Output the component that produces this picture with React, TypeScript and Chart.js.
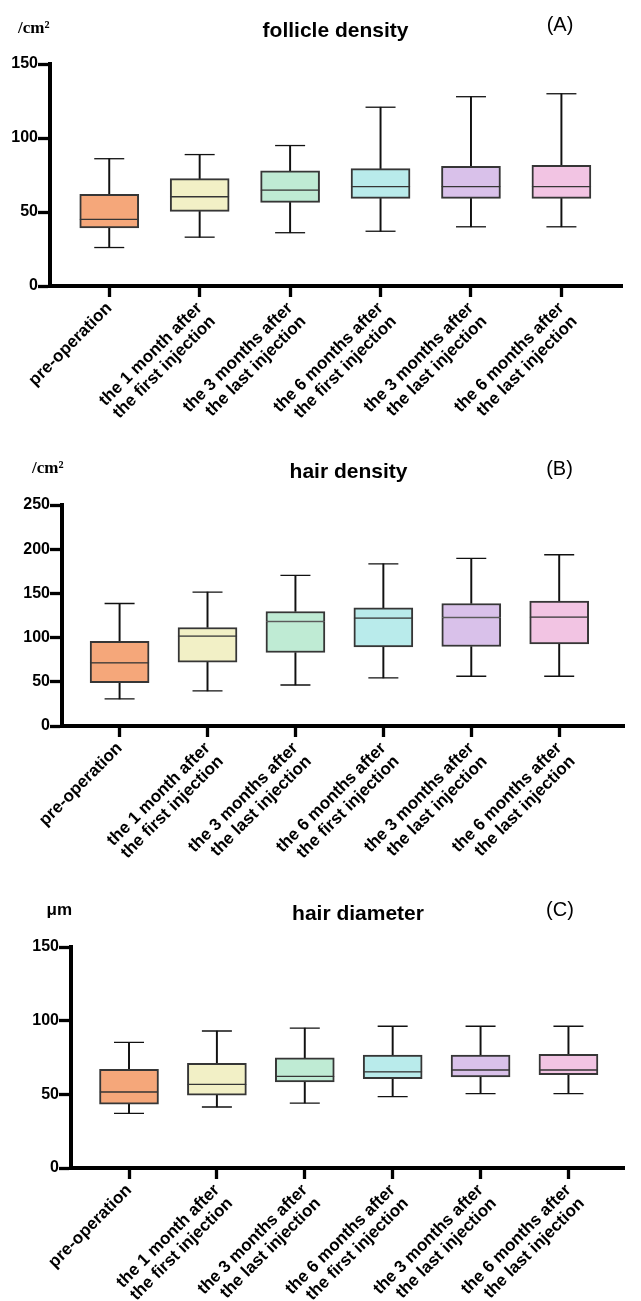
import React, { useEffect, useRef } from 'react';
import { Chart, registerables } from 'chart.js';
Chart.register(...registerables);

const categories: (string | string[])[] = [
  'pre-operation',
  ['the 1 month after', 'the first injection'],
  ['the 3 months after', 'the last injection'],
  ['the 6 months after', 'the first injection'],
  ['the 3 months after', 'the last injection'],
  ['the 6 months after', 'the last injection'],
];
const boxColors = ['#F5A77A', '#F2F0C6', '#BFEBD4', '#B9EBEB', '#D9C1EA', '#F2C4E3'];

// (A) follicle density
const follicleMin = [26, 33, 36, 37, 40, 40];
const follicleQ1 = [39.3, 50.4, 56.5, 59.2, 59.2, 59.2];
const follicleMedian = [45, 60.3, 64.8, 67.1, 67.1, 67.1];
const follicleQ3 = [61.9, 72.5, 77.9, 79.3, 80.9, 81.5];
const follicleMax = [86, 88.8, 94.9, 120.8, 127.9, 129.9];

// (B) hair density
const hairDensityMin = [30.6, 39.7, 46.4, 54.4, 56.3, 56.3];
const hairDensityQ1 = [49.1, 72.1, 83.1, 89.5, 89.9, 92.9];
const hairDensityMedian = [71.4, 101.6, 118.2, 122, 122.7, 123.1];
const hairDensityQ3 = [95.9, 111.4, 129.5, 133.7, 138.6, 141.2];
const hairDensityMax = [138.6, 151.4, 170.3, 183.5, 189.6, 193.7];

// (C) hair diameter
const diameterMin = [37.1, 41.4, 44.1, 48.4, 50.5, 50.5];
const diameterQ1 = [43.4, 49.5, 58.4, 60.6, 61.8, 63.3];
const diameterMedian = [51.6, 56.8, 62.2, 65.2, 66.5, 66.5];
const diameterQ3 = [67, 71, 74.7, 76.7, 76.7, 77.1];
const diameterMax = [85.3, 93, 95, 96.2, 96.2, 96.2];

const yMaxA = 150;
const yMaxB = 250;
const yMaxC = 150;
const yStep = 50;

const SANS = '"Liberation Sans", Arial, sans-serif';

type Spec = {
  min: number[]; q1: number[]; med: number[]; q3: number[]; max: number[];
  yMax: number;
  height: number;
  padTop: number;
  padRight: number;
  yAxisWidth: number;
  xAxisHeight: number;
  xMin: number;
  xMax: number;
};

function makeConfig(s: Spec): any {
  const idx = categories.map((_, i) => i);
  const range = (a: number[], b: number[]) => idx.map(i => ({ x: i, y: [a[i], b[i]] }));
  const pts = (a: number[]) => idx.map(i => ({ x: i, y: a[i] }));
  const boxBase = {
    type: 'bar',
    backgroundColor: boxColors,
    borderColor: '#363636',
    borderSkipped: false,
    barThickness: 59,
    grouped: false,
    order: 1,
  };
  const whisker = {
    type: 'bar',
    backgroundColor: '#111',
    borderWidth: 0,
    barThickness: 1.3,
    grouped: false,
    order: 3,
  };
  const cap = {
    type: 'scatter',
    pointStyle: 'line',
    pointRadius: 15,
    pointHoverRadius: 15,
    pointBorderColor: '#111',
    pointBorderWidth: 1.3,
    borderColor: '#111',
    order: 2,
  };
  return {
    type: 'bar',
    data: {
      datasets: [
        { ...boxBase, data: range(s.q1, s.med), borderWidth: { top: 1, bottom: 2, left: 2, right: 2 } },
        { ...boxBase, data: range(s.med, s.q3), borderWidth: { top: 2, bottom: 1, left: 2, right: 2 } },
        { ...whisker, data: range(s.min, s.q1) },
        { ...whisker, data: range(s.q3, s.max) },
        { ...cap, data: pts(s.min) },
        { ...cap, data: pts(s.max) },
      ],
    },
    options: {
      animation: false,
      responsive: false,
      devicePixelRatio: 1,
      events: [],
      layout: { padding: { top: s.padTop, right: s.padRight, bottom: 0, left: 0 } },
      plugins: { legend: { display: false }, tooltip: { enabled: false }, title: { display: false } },
      scales: {
        x: {
          type: 'linear',
          offset: false,
          min: s.xMin,
          max: s.xMax,
          afterBuildTicks: (scale: any) => {
            scale.ticks = idx.map(v => ({ value: v }));
          },
          afterFit: (scale: any) => {
            scale.height = s.xAxisHeight;
          },
          grid: {
            offset: false,
            drawOnChartArea: false,
            drawTicks: true,
            tickLength: 11,
            tickWidth: 3.3,
            tickColor: '#000',
          },
          border: { display: true, width: 4, color: '#000' },
          ticks: {
            autoSkip: false,
            maxRotation: 45,
            minRotation: 45,
            padding: 2,
            color: '#000',
            font: { family: SANS, size: 17, weight: 'bold', lineHeight: 1.1 },
            callback: (v: any) => categories[Math.round(Number(v))] ?? '',
          },
        },
        y: {
          type: 'linear',
          min: 0,
          max: s.yMax,
          afterFit: (scale: any) => {
            scale.width = s.yAxisWidth;
          },
          grid: {
            drawOnChartArea: false,
            drawTicks: true,
            tickLength: 12,
            tickWidth: 3.3,
            tickColor: '#000',
          },
          border: { display: true, width: 4, color: '#000' },
          ticks: {
            stepSize: yStep,
            padding: 0,
            color: '#000',
            font: { family: SANS, size: 16, weight: 'bold' },
          },
        },
      },
    },
  };
}

function Panel({ spec, top }: { spec: Spec; top: number }) {
  const ref = useRef<HTMLCanvasElement | null>(null);
  useEffect(() => {
    if (!ref.current) return;
    const chart = new Chart(ref.current, makeConfig(spec));
    return () => chart.destroy();
  }, []);
  return (
    <canvas
      ref={ref}
      width={641}
      height={spec.height}
      style={{ position: 'absolute', left: 0, top, width: 641, height: spec.height }}
    />
  );
}

function Label({ text, x, baseline, size, family, weight, center }: {
  text: string; x: number; baseline: number; size: number; family: string; weight: string | number; center?: boolean;
}) {
  return (
    <div
      style={{
        position: 'absolute',
        left: x,
        top: baseline - 0.847 * size,
        fontSize: size,
        lineHeight: `${size}px`,
        fontFamily: family,
        fontWeight: weight as any,
        color: '#000',
        whiteSpace: 'nowrap',
        transform: center ? 'translateX(-50%)' : undefined,
      }}
    >
      {text}
    </div>
  );
}

const specA: Spec = {
  min: follicleMin, q1: follicleQ1, med: follicleMedian, q3: follicleQ3, max: follicleMax,
  yMax: yMaxA, height: 440, padTop: 64, padRight: 19, yAxisWidth: 50, xAxisHeight: 154,
  xMin: -0.655, xMax: 5.67,
};
const specB: Spec = {
  min: hairDensityMin, q1: hairDensityQ1, med: hairDensityMedian, q3: hairDensityQ3, max: hairDensityMax,
  yMax: yMaxB, height: 440, padTop: 65, padRight: 0, yAxisWidth: 62, xAxisHeight: 154,
  xMin: -0.655, xMax: 5.745,
};
const specC: Spec = {
  min: diameterMin, q1: diameterQ1, med: diameterMedian, q3: diameterQ3, max: diameterMax,
  yMax: yMaxC, height: 421, padTop: 67, padRight: 0, yAxisWidth: 71, xAxisHeight: 133,
  xMin: -0.66, xMax: 5.64,
};

export default function App() {
  const serif = '"Liberation Serif", "Times New Roman", serif';
  return (
    <div style={{ position: 'absolute', left: 0, top: 0, width: 641, height: 1301, background: '#fff', overflow: 'hidden' }}>
      <Panel spec={specA} top={0} />
      <Panel spec={specB} top={440} />
      <Panel spec={specC} top={880} />

      <Label text="/cm²" x={18} baseline={33} size={17} family={serif} weight="bold" />
      <Label text="follicle density" x={335.5} baseline={36.7} size={21} family={SANS} weight="bold" center />
      <Label text="(A)" x={560} baseline={30.7} size={20} family={SANS} weight="normal" center />

      <Label text="/cm²" x={32} baseline={473} size={17} family={serif} weight="bold" />
      <Label text="hair density" x={348.5} baseline={478} size={21} family={SANS} weight="bold" center />
      <Label text="(B)" x={559.5} baseline={475} size={20} family={SANS} weight="normal" center />

      <Label text="μm" x={46.5} baseline={915} size={17} family={SANS} weight="bold" />
      <Label text="hair diameter" x={358} baseline={920} size={21} family={SANS} weight="bold" center />
      <Label text="(C)" x={560} baseline={916} size={20} family={SANS} weight="normal" center />
    </div>
  );
}
